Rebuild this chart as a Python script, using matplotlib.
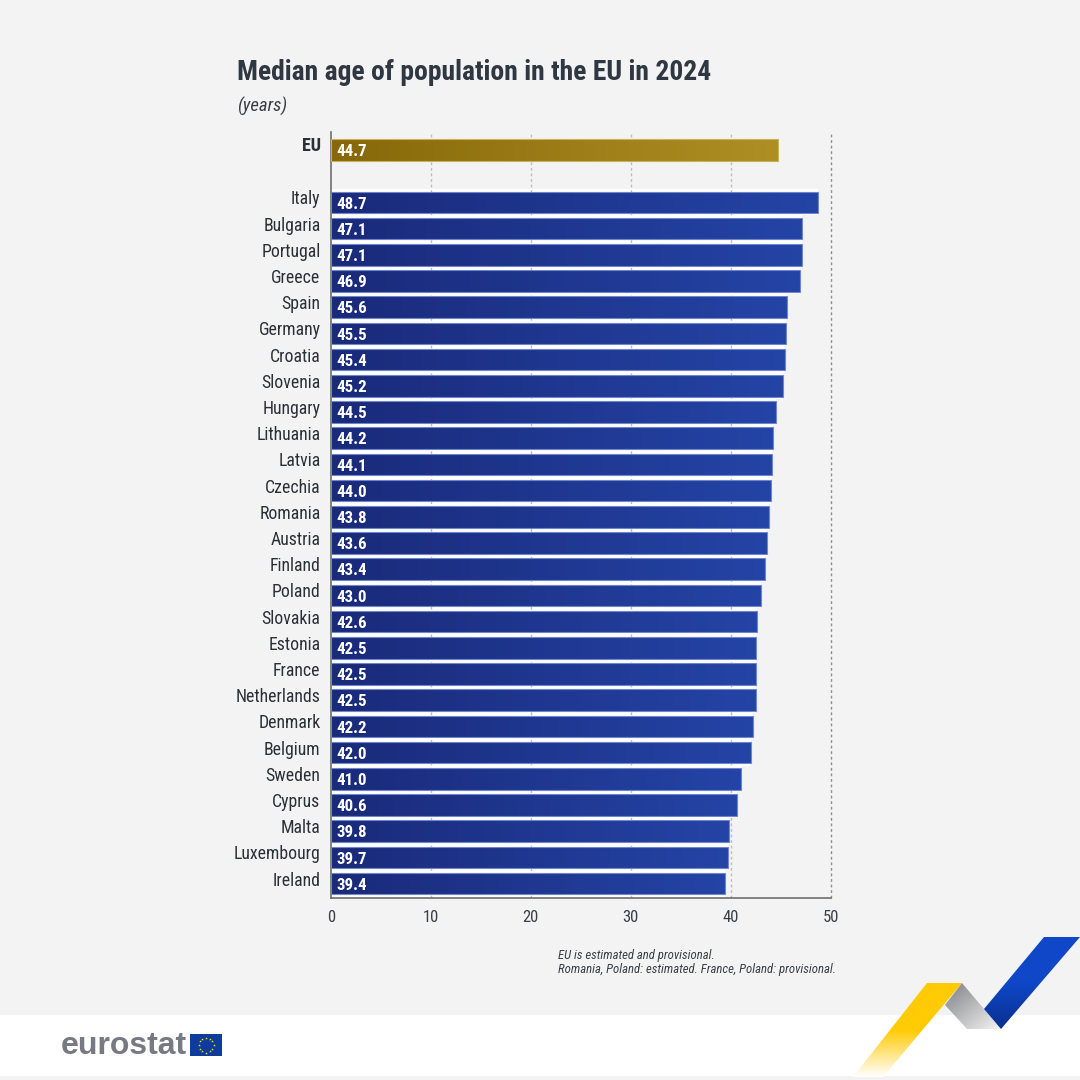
import numpy as np
import matplotlib
matplotlib.use('Agg')
import matplotlib.pyplot as plt
from matplotlib.colors import LinearSegmentedColormap
from matplotlib.patches import Polygon, Rectangle

countries = ['Italy', 'Bulgaria', 'Portugal', 'Greece', 'Spain', 'Germany', 'Croatia',
             'Slovenia', 'Hungary', 'Lithuania', 'Latvia', 'Czechia', 'Romania', 'Austria',
             'Finland', 'Poland', 'Slovakia', 'Estonia', 'France', 'Netherlands', 'Denmark',
             'Belgium', 'Sweden', 'Cyprus', 'Malta', 'Luxembourg', 'Ireland']
ages = [48.7, 47.1, 47.1, 46.9, 45.6, 45.5, 45.4, 45.2, 44.5, 44.2, 44.1, 44.0, 43.8, 43.6,
        43.4, 43.0, 42.6, 42.5, 42.5, 42.5, 42.2, 42.0, 41.0, 40.6, 39.8, 39.7, 39.4]
eu_label = 'EU'
eu_age = 44.7
x_ticks = [0, 10, 20, 30, 40, 50]

BG = '#f3f3f3'
NARROW = ['Roboto Condensed', 'Liberation Sans', 'DejaVu Sans']
TEXT = '#2b3038'

blue_grad = LinearSegmentedColormap.from_list('blue_bar', ['#1a2a7a', '#2444a6'])
gold_grad = LinearSegmentedColormap.from_list('gold_bar', ['#876809', '#ae8f24'])

fig = plt.figure(figsize=(10.8, 10.8), dpi=100, facecolor=BG)

# overlay in pixel coordinates for the footer band and branding
deco = fig.add_axes([0, 0, 1, 1], zorder=0)
deco.axis('off')
deco.add_patch(Rectangle((0, 1015), 1080, 61, color='white', lw=0, zorder=1))


def grad_poly(points, cmap, box, vertical=False, diagonal=False):
    # fill a polygon with a gradient image clipped to its outline
    n = 256
    if diagonal:
        xx, yy = np.meshgrid(np.linspace(0, 1, n), np.linspace(0, 1, n))
        g = (xx + yy) / 2
    elif vertical:
        g = np.linspace(0, 1, n).reshape(-1, 1)
    else:
        g = np.linspace(0, 1, n).reshape(1, -1)
    im = deco.imshow(g, cmap=cmap, extent=box, aspect='auto', origin='upper', vmin=0, vmax=1, zorder=2)
    poly = Polygon(points, closed=True, transform=deco.transData, fc='none', ec='none')
    deco.add_patch(poly)
    im.set_clip_path(poly)


yellow = LinearSegmentedColormap.from_list('yellow', [(0, '#ffcb05'), (0.5, '#ffcb05'), (1, '#ffffff')])
grey = LinearSegmentedColormap.from_list('grey', ['#7f8084', '#f4f4f4'])
blue = LinearSegmentedColormap.from_list('blue', ['#0f47c8', '#0f47c8', '#0a2f8e'])
grad_poly([(927, 983), (962, 983), (883, 1077), (853, 1077)], yellow, (853, 962, 1077, 983), vertical=True)
grad_poly([(962, 983), (1001, 1029), (967, 1029), (945, 1005)], grey, (945, 1001, 1029, 983), diagonal=True)
grad_poly([(1044, 937), (1080, 937), (1001, 1029), (984, 1009)], blue, (984, 1080, 1029, 937), vertical=True)

# logo
deco.text(61, 1046, 'eurostat', family=['Liberation Sans', 'DejaVu Sans'], weight='bold',
          fontsize=23, color='#777a83', va='center', ha='left', zorder=3)
deco.add_patch(Rectangle((190, 1034), 32, 22, color='#0f3c9c', lw=0, zorder=3))
star_angles = np.arange(12) * np.pi / 6
deco.scatter(206 + 7.5 * np.cos(star_angles), 1045 + 7.5 * np.sin(star_angles),
             s=4, marker='*', color='#ffd617', linewidths=0, zorder=5)
deco.set_xlim(0, 1080)
deco.set_ylim(1080, 0)

# chart area
ax = fig.add_axes([331 / 1080, 1 - 898 / 1080, 499.5 / 1080, 766 / 1080], zorder=1)
ax.patch.set_alpha(0)

positions = list(range(2, 2 + len(countries)))
ax.barh(positions, ages, height=1.0, color='#ffffff', lw=0, zorder=1)


def grad_bar(y, value, cmap, edge):
    bar = ax.barh([y], [value], height=0.82, color='none', edgecolor=edge, lw=0.8, zorder=4)[0]
    im = ax.imshow(np.linspace(0, 1, 256).reshape(1, -1), cmap=cmap, aspect='auto',
                   extent=(0, value, y + 0.41, y - 0.41), zorder=3)
    im.set_clip_path(bar)


grad_bar(0, eu_age, gold_grad, '#c9b15e')
for pos, age in zip(positions, ages):
    grad_bar(pos, age, blue_grad, '#6f86cf')

ax.set_xlim(0, 50)
ax.set_ylim(28.55, -0.687)
ax.set_yticks([])
ax.set_xticks(x_ticks)
ax.set_xticklabels([str(t) for t in x_ticks], family=NARROW, fontsize=12, color='#3a3f47')
ax.tick_params(axis='x', length=0, pad=9)

for t in x_ticks[1:]:
    ax.axvline(t, color='#8e8e8e' if t == 50 else '#bdbdbd', lw=1.0, ls=(0, (2, 2)),
               zorder=2, clip_on=False)

for side in ['top', 'right']:
    ax.spines[side].set_visible(False)
for side in ['left', 'bottom']:
    ax.spines[side].set_color('#6e6e6e')
    ax.spines[side].set_linewidth(1.2)

for name, pos, age in zip(countries, positions, ages):
    ax.annotate(name, (0, pos), xytext=(-7.5, 2.2), textcoords='offset points', ha='right',
                va='center', family=NARROW, fontsize=12.8, color=TEXT)
    ax.annotate(f'{age:.1f}', (0, pos), xytext=(4.2, -1.2), textcoords='offset points', ha='left',
                va='center', family=NARROW, fontsize=12.2, color='white', weight='bold', zorder=6)
ax.annotate(eu_label, (0, 0), xytext=(-7.5, 2.8), textcoords='offset points', ha='right',
            va='center', family=NARROW, fontsize=13, color=TEXT, weight='bold')
ax.annotate(f'{eu_age:.1f}', (0, 0), xytext=(4.2, -1.2), textcoords='offset points', ha='left',
            va='center', family=NARROW, fontsize=12.2, color='white', weight='bold', zorder=6)

# title, unit and notes
deco.text(237, 73, 'Median age of population in the EU in 2024', family=NARROW, weight='bold',
          fontsize=19.9, color='#2f3742', va='center', ha='left')
deco.text(237, 106, '(years)', family=NARROW, style='italic', fontsize=13.5,
          color='#3a3f47', va='center', ha='left')
deco.text(558, 955, 'EU is estimated and provisional.', family=NARROW, style='italic',
          fontsize=9.2, color='#3a3f47', va='center', ha='left')
deco.text(558, 970, 'Romania, Poland: estimated. France, Poland: provisional.', family=NARROW,
          style='italic', fontsize=9.2, color='#3a3f47', va='center', ha='left')

fig.savefig('out.png', dpi=100, facecolor=BG)
